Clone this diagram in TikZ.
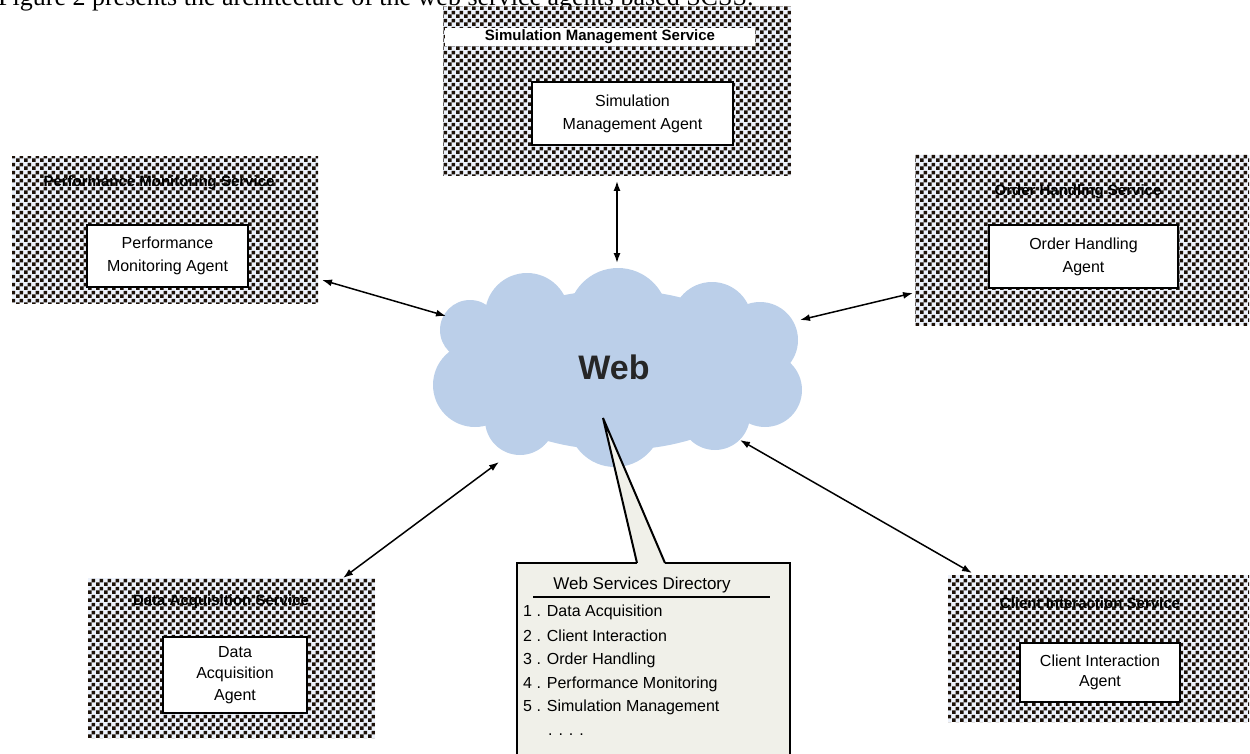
\documentclass[tikz,border=0pt]{standalone}
\usepackage{fontspec}
\setmainfont{Liberation Serif}
\newfontfamily\sansf{Liberation Sans}
\usetikzlibrary{patterns.meta,arrows.meta}
\definecolor{chkdark}{HTML}{1C1108}
\definecolor{chklight}{HTML}{EDF2FB}
\definecolor{cloudblue}{HTML}{BBCFE9}
\definecolor{dirfill}{HTML}{F0F0E9}
\tikzdeclarepattern{name=chk, type=uncolored,
  bounding box={(0pt,0pt) and (8pt,8pt)}, tile size={(8pt,8pt)},
  code={\fill (0pt,0pt) rectangle (4pt,4pt); \fill (4pt,4pt) rectangle (8pt,8pt);}}
\begin{document}
\begin{tikzpicture}[x=1pt,y=-1pt,
  svc/.style={rectangle, inner sep=0pt, draw=none, fill=chklight,
    postaction={pattern=chk, pattern color=chkdark}},
  svctitle/.style={font=\sansf\bfseries\fontsize{15}{17}\selectfont, text=black, inner sep=1pt},
  agent/.style={rectangle, draw=black, line width=2.5pt, fill=white, align=center,
    inner sep=0pt, font=\sansf\fontsize{16}{23}\selectfont},
  biarrow/.style={{Latex[length=10pt,width=7pt]}-{Latex[length=10pt,width=7pt]}, line width=1.5pt},
  diritem/.style={anchor=west, inner sep=0pt, font=\sansf\fontsize{16}{18}\selectfont},
]
\useasboundingbox (0,0) rectangle (1250,754);

% caption line (cut at the top, as in the reference)
\begin{scope}
\clip (0,0) rectangle (1250,754);
\node[anchor=base west, inner sep=0pt, font=\fontsize{26}{28}\selectfont] (caption) at (-2,6)
  {Figure 2 presents the architecture of the web service agents based SCSS.};
\end{scope}

% Simulation Management Service
\node[svc, minimum width=348pt, minimum height=169pt] (simsvc) at (617,91.5) {};
\node[svctitle, fill=white, minimum width=310pt, minimum height=18pt] (simtitle) at (600,37) {Simulation Management Service};
\node[agent, minimum width=201pt, minimum height=63pt] (simagent) at (632.5,113.5) {Simulation\\Management Agent};

% Performance Monitoring Service
\node[svc, minimum width=306pt, minimum height=146pt] (pmsvc) at (165,230) {};
\node[svctitle] (pmtitle) at (159,183) {Performance Monitoring Service};
\node[agent, minimum width=161pt, minimum height=62pt] (pmagent) at (167.5,256) {Performance\\Monitoring Agent};

% Order Handling Service
\node[svc, minimum width=334pt, minimum height=170pt] (ohsvc) at (1082,240) {};
\node[svctitle] (ohtitle) at (1078,192) {Order Handling Service};
\node[agent, minimum width=189pt, minimum height=63pt] (ohagent) at (1083.5,256.5) {Order Handling\\Agent};

% Data Acquisition Service
\node[svc, minimum width=287pt, minimum height=160pt] (dasvc) at (231.5,658) {};
\node[svctitle] (datitle) at (221,602) {Data Acquisition Service};
\node[agent, minimum width=144pt, minimum height=76pt, font=\sansf\fontsize{16}{21.5}\selectfont] (daagent) at (235,675) {Data\\Acquisition\\Agent};

% Client Interaction Service
\node[svc, minimum width=301pt, minimum height=147pt] (cisvc) at (1098.5,648.5) {};
\node[svctitle] (cititle) at (1090,603) {Client Interaction Service};
\node[agent, minimum width=160pt, minimum height=59pt, font=\sansf\fontsize{16}{20}\selectfont] (ciagent) at (1100,672.5) {Client Interaction\\Agent};

% Cloud
\begin{scope}[fill=cloudblue]
\fill (617,370) ellipse [x radius=150, y radius=80];
\fill (527,315) circle [radius=42];
\fill (618,318) circle [radius=50];
\fill (712,322) circle [radius=40];
\fill (760,340) circle [radius=38];
\fill (765,390) circle [radius=37];
\fill (470,330) circle [radius=30];
\fill (475,385) circle [radius=42];
\fill (520,420) circle [radius=35];
\fill (615,420) circle [radius=47];
\fill (715,415) circle [radius=35];
\end{scope}
\node[font=\sansf\bfseries\fontsize{34}{36}\selectfont, text=black!85] (web) at (614,367) {Web};

% arrow end points
\coordinate (simout) at (617,181);
\coordinate (websim) at (617,263);
\coordinate (pmout) at (322,280);
\coordinate (webpm) at (446,316);
\coordinate (ohout) at (913,293);
\coordinate (weboh) at (800,320);
\coordinate (daout) at (343,578);
\coordinate (webda) at (499,462);
\coordinate (ciout) at (972,573);
\coordinate (webci) at (740,440);

\draw[biarrow] (simout) -- (websim);
\draw[biarrow] (pmout) -- (webpm);
\draw[biarrow] (ohout) -- (weboh);
\draw[biarrow] (daout) -- (webda);
\draw[biarrow] (ciout) -- (webci);

% Web Services Directory callout
\node[fill=dirfill, draw=none, minimum width=273pt, minimum height=191pt, inner sep=0pt, anchor=north west] (dir) at (517,563) {};
\coordinate (tipapex) at (603,418);
\coordinate (tipleft) at (637,563);
\coordinate (tipright) at (665,563);
\filldraw[fill=dirfill, line width=2pt] (tipleft) -- (tipapex) -- (tipright);
\draw[line width=2pt] (dir.south west) -- (dir.north west) -- (tipleft) (tipright) -- (dir.north east) -- (dir.south east);

\node[inner sep=0pt, font=\sansf\fontsize{17}{19}\selectfont] (dirtitle) at (642,585) {Web Services Directory};
\draw[line width=1.5pt] (533,597) -- (770,597);
\node[diritem] (i1) at (523,612) {1 . Data Acquisition};
\node[diritem] (i2) at (523,636) {2 . Client Interaction};
\node[diritem] (i3) at (523,660) {3 . Order Handling};
\node[diritem] (i4) at (523,684) {4 . Performance Monitoring};
\node[diritem] (i5) at (523,707) {5 . Simulation Management};
\node[diritem] (i6) at (548,735) {. . . .};
\end{tikzpicture}
\end{document}
